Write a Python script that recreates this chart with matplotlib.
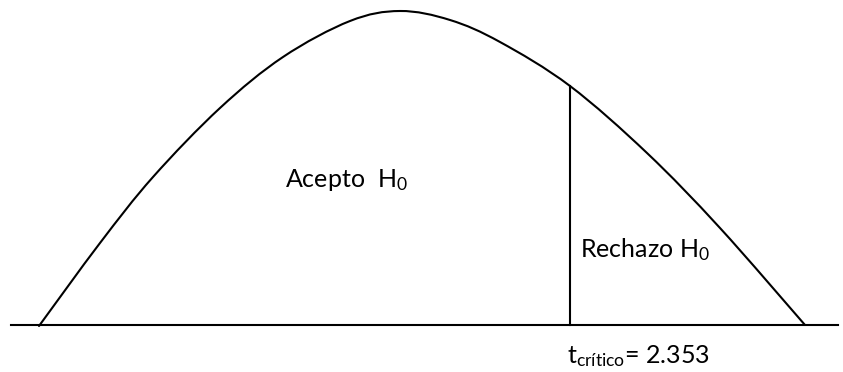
import matplotlib
matplotlib.use("Agg")
import matplotlib.pyplot as plt
from matplotlib.path import Path
from matplotlib.patches import PathPatch

plt.rcParams['font.family'] = ['Lato', 'DejaVu Sans']
plt.rcParams['mathtext.fontset'] = 'custom'
plt.rcParams['mathtext.rm'] = 'Lato'
plt.rcParams['mathtext.it'] = 'Lato:italic'
plt.rcParams['mathtext.bf'] = 'Lato:bold'

# Curve (pixel coordinates, y downwards)
curve_x = [39, 100, 153, 220, 283, 350, 400, 450, 500, 570, 647, 720, 805]
curve_y = [326, 243, 177, 108, 57, 21, 11, 20, 42, 86, 153, 228, 325]

baseline_x = [11, 838]
baseline_y = 325
crit_x = 570
crit_top = 86

label_accept = r"Acepto  H$_0$"
label_reject = r"Rechazo H$_0$"
label_crit = r"t$_{\mathrm{crítico}}$= 2.353"

fig = plt.figure(figsize=(8.43, 3.72), dpi=100)
ax = fig.add_axes([0, 0, 1, 1])
ax.set_xlim(0, 843)
ax.set_ylim(372, 0)
ax.axis('off')

# Smooth curve through the read points (Catmull-Rom rendered as cubic Bezier path)
pts = list(zip(curve_x, curve_y))
verts = [pts[0]]
codes = [Path.MOVETO]
for i in range(len(pts) - 1):
    p0 = pts[i - 1] if i > 0 else pts[i]
    p1 = pts[i]
    p2 = pts[i + 1]
    p3 = pts[i + 2] if i + 2 < len(pts) else pts[i + 1]
    c1 = (p1[0] + (p2[0] - p0[0]) / 6.0, p1[1] + (p2[1] - p0[1]) / 6.0)
    c2 = (p2[0] - (p3[0] - p1[0]) / 6.0, p2[1] - (p3[1] - p1[1]) / 6.0)
    verts += [c1, c2, p2]
    codes += [Path.CURVE4, Path.CURVE4, Path.CURVE4]
ax.add_patch(PathPatch(Path(verts, codes), facecolor='none', edgecolor='black',
                       lw=1.5, capstyle='round', joinstyle='round'))

ax.plot(baseline_x, [baseline_y, baseline_y], color='black', lw=1.5)
ax.plot([crit_x, crit_x], [crit_top, baseline_y], color='black', lw=1.5)

ax.text(285, 187, label_accept, fontsize=18, va='baseline', ha='left')
ax.text(580, 257, label_reject, fontsize=18, va='baseline', ha='left')
ax.text(567, 363, label_crit, fontsize=18, va='baseline', ha='left')

fig.savefig('out.png', dpi=100)
